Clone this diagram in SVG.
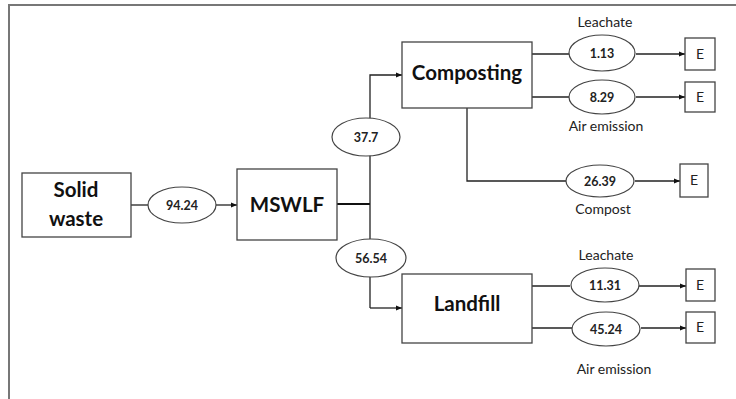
<svg xmlns="http://www.w3.org/2000/svg" width="736" height="399" viewBox="0 0 736 399">
<defs>
<marker id="ah" markerWidth="6" markerHeight="6" refX="6" refY="3" orient="auto" markerUnits="userSpaceOnUse">
<path d="M0,0.5 L6,3 L0,5.5 Z" fill="#111"/>
</marker>
</defs>
<style>
.box{fill:#fff;stroke:#444;stroke-width:1.3}
.ell{fill:#fff;stroke:#444;stroke-width:1.2}
.big{font-family:Lato,"Liberation Sans",sans-serif;font-weight:bold;font-size:20.5px;fill:#111;text-anchor:middle}
.num{font-family:Lato,"Liberation Sans",sans-serif;font-weight:bold;font-size:12.5px;fill:#222;text-anchor:middle}
.lab{font-family:Lato,"Liberation Sans",sans-serif;font-size:14px;fill:#222;text-anchor:middle}
.e{font-family:Lato,"Liberation Sans",sans-serif;font-size:14px;fill:#222;text-anchor:middle}
.ln{fill:none;stroke:#222;stroke-width:1.3}
.lnt{fill:none;stroke:#111;stroke-width:2}
</style>
<rect width="736" height="399" fill="#fff"/>
<path d="M9,399 V5 H736" fill="none" stroke="#777" stroke-width="2"/>

<g id="connectors">
<path class="ln" d="M131,205 H148"/>
<path class="ln" d="M216,205 H237" marker-end="url(#ah)"/>
<path class="lnt" d="M337,204 H370"/>
<path class="ln" d="M370,308 V75 H402" marker-end="url(#ah)"/>
<path class="ln" d="M370,308 H402" marker-end="url(#ah)"/>
<path class="ln" d="M532,54 H569"/>
<path class="ln" d="M636,54 H685" marker-end="url(#ah)"/>
<path class="ln" d="M532,97 H569"/>
<path class="ln" d="M636,97 H685" marker-end="url(#ah)"/>
<path class="ln" d="M467,108 V181 H566"/>
<path class="ln" d="M635,181 H680" marker-end="url(#ah)"/>
<path class="ln" d="M532,286 H570"/>
<path class="ln" d="M639,286 H686" marker-end="url(#ah)"/>
<path class="ln" d="M532,328 H572"/>
<path class="ln" d="M641,328 H686" marker-end="url(#ah)"/>
</g>

<g id="solid-waste">
<rect class="box" x="22" y="173" width="109" height="64"/>
<text class="big" x="76" y="197">Solid</text>
<text class="big" x="76" y="226">waste</text>
</g>
<g id="flow-94">
<ellipse class="ell" cx="182" cy="205" rx="34" ry="18"/>
<text class="num" x="182" y="209.5">94.24</text>
</g>
<g id="mswlf">
<rect class="box" x="237" y="169" width="100" height="71"/>
<text class="big" x="287" y="212">MSWLF</text>
</g>
<g id="flow-37">
<ellipse class="ell" cx="366" cy="137" rx="34" ry="19"/>
<text class="num" x="366" y="141.5">37.7</text>
</g>
<g id="flow-56">
<ellipse class="ell" cx="371" cy="258" rx="35" ry="19"/>
<text class="num" x="371" y="262.5">56.54</text>
</g>
<g id="composting">
<rect class="box" x="402" y="42" width="130" height="66"/>
<text class="big" x="467" y="80">Composting</text>
</g>
<g id="landfill">
<rect class="box" x="402" y="274" width="130" height="69"/>
<text class="big" x="467" y="311">Landfill</text>
</g>

<g id="c-leachate">
<text class="lab" x="605" y="27">Leachate</text>
<ellipse class="ell" cx="602" cy="53" rx="33" ry="18"/>
<text class="num" x="602" y="57.5">1.13</text>
</g>
<g id="c-air">
<ellipse class="ell" cx="602" cy="97" rx="33" ry="17"/>
<text class="num" x="602" y="101.5">8.29</text>
<text class="lab" x="606" y="131">Air emission</text>
</g>
<g id="c-compost">
<ellipse class="ell" cx="600" cy="181" rx="34" ry="16"/>
<text class="num" x="600" y="185.5">26.39</text>
<text class="lab" x="603" y="214">Compost</text>
</g>
<g id="l-leachate">
<text class="lab" x="606" y="260">Leachate</text>
<ellipse class="ell" cx="605" cy="285" rx="34" ry="17"/>
<text class="num" x="605" y="289.5">11.31</text>
</g>
<g id="l-air">
<ellipse class="ell" cx="606" cy="329" rx="34" ry="17"/>
<text class="num" x="606" y="333.5">45.24</text>
<text class="lab" x="614" y="374">Air emission</text>
</g>

<g id="e1"><rect class="box" x="685" y="38" width="30" height="32"/><text class="e" x="700" y="59">E</text></g>
<g id="e2"><rect class="box" x="685" y="82" width="30" height="30"/><text class="e" x="700" y="102">E</text></g>
<g id="e3"><rect class="box" x="680" y="164" width="28" height="33"/><text class="e" x="694" y="185">E</text></g>
<g id="e4"><rect class="box" x="686" y="269" width="29" height="32"/><text class="e" x="700" y="290">E</text></g>
<g id="e5"><rect class="box" x="686" y="312" width="29" height="31"/><text class="e" x="700" y="332">E</text></g>
</svg>
